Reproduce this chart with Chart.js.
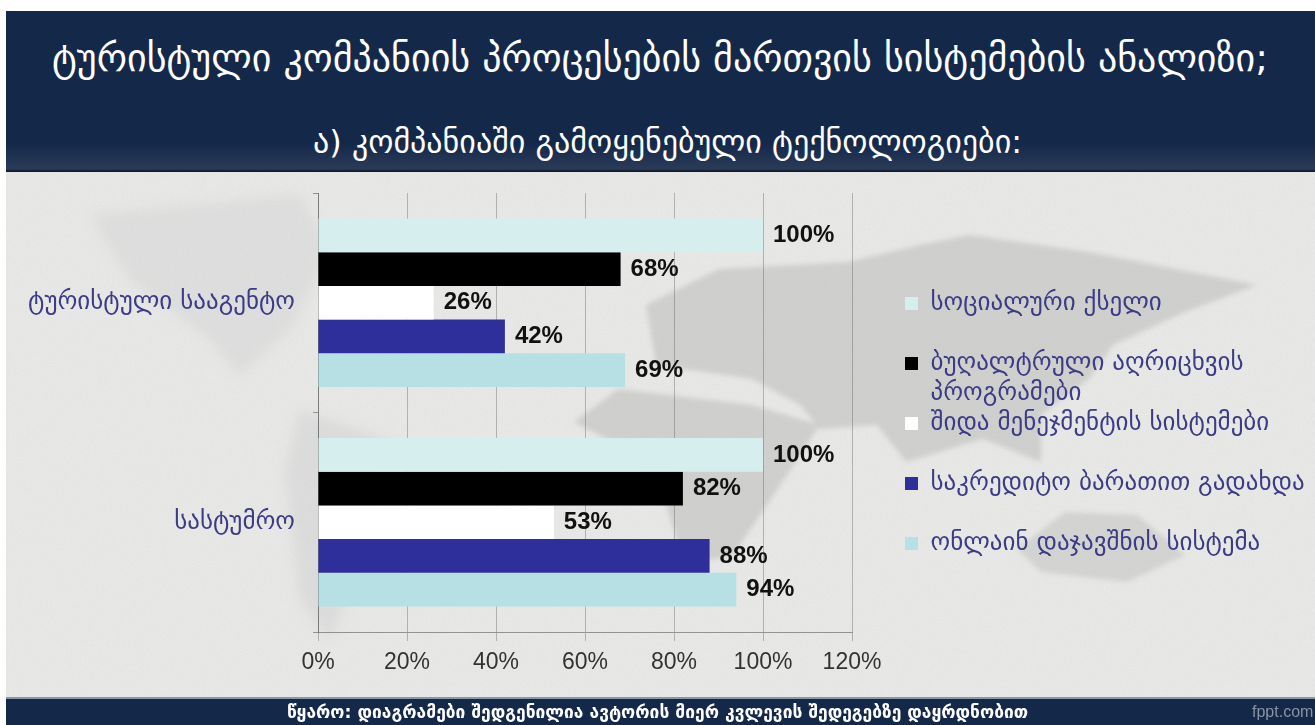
<!DOCTYPE html>
<html lang="ka">
<head>
<meta charset="utf-8">
<title>ტურისტული კომპანიის პროცესების მართვის სისტემების ანალიზი</title>
<script src="https://cdn.jsdelivr.net/npm/chart.js@4"></script>
<style>
  html, body { margin:0; padding:0; background:#fff; overflow:hidden; }
  #slide { position:absolute; left:6px; top:11px; width:1309px; height:714px; background:#e9e9e8; overflow:hidden; font-family:"DejaVu Sans",sans-serif; }
  #map { position:absolute; left:-6px; top:-11px; }
  #head { position:absolute; left:0; top:0; width:100%; height:161px; background:linear-gradient(#14284a 0,#14284a 82%,#2a3b57 98%,#0c1525 100%); color:#fff; white-space:nowrap; }
  #head div { position:absolute; }
  #t1 { top:25px; left:46px; font-size:38px; line-height:44px; }
  #t2 { top:112px; left:307px; font-size:32px; line-height:38px; }
  #foot { position:absolute; left:0; top:686px; width:100%; height:28px; background:#14284a; border-top:2px solid #8b97a8; box-sizing:border-box; color:#fff; white-space:nowrap; }
  #src { position:absolute; left:281px; top:3px; font-size:17.4px; font-weight:bold; }
  #brand { position:absolute; left:1246px; top:4px; font:16px "Liberation Sans",sans-serif; color:#8a93a3; }
  #wrap { position:absolute; left:0; top:161px; width:1309px; height:525px; }
</style>
</head>
<body>
<div id="slide">
  <svg id="map" width="1315" height="725">
    <defs>
      <filter id="blur"><feGaussianBlur stdDeviation="2.5"/></filter>
      <filter id="soft"><feGaussianBlur stdDeviation="6"/></filter>
      <filter id="paper"><feTurbulence type="fractalNoise" baseFrequency="0.7" numOctaves="2" seed="4"/><feColorMatrix values="0 0 0 0 0.5 0 0 0 0 0.5 0 0 0 0 0.5 0.5 0 0 0 -0.12"/></filter>
    </defs>
    <g fill="#d6d6d5" filter="url(#soft)">
      <path d="M90 215 L300 195 L330 250 L290 330 L240 375 L210 340 L130 280Z" opacity=".5"/>
      <path d="M300 410 L390 440 L370 540 L330 640 L300 600 L285 470Z" opacity=".6"/>
    </g>
    <g fill="#d0d0cf" filter="url(#blur)">
      <path d="M646 305 L719 269 L848 262 L920 245 L969 235 L1089 252 L1257 285 L1185 312 L1113 345 L1089 379 L1041 415 L1041 462 L983 439 L906 462 L877 425 L820 429 L800 405 L752 379 L656 365Z"/>
      <path d="M574 422 L618 389 L752 405 L820 425 L767 505 L733 555 L685 565 L666 505 L618 445Z"/>
      <path d="M1017 549 L1065 512 L1137 515 L1185 555 L1127 582 L1041 572Z" opacity=".85"/>
    </g>
    <rect width="1315" height="725" filter="url(#paper)" opacity=".35"/>
  </svg>
  <div id="head">
    <div id="t1">ტურისტული კომპანიის პროცესების მართვის სისტემების ანალიზი;</div>
    <div id="t2">ა) კომპანიაში გამოყენებული ტექნოლოგიები:</div>
  </div>
  <div id="wrap"><canvas id="chart" width="1309" height="525"></canvas></div>
  <div id="foot">
    <span id="src">წყარო: დიაგრამები შედგენილია ავტორის მიერ კვლევის შედეგებზე დაყრდნობით</span>
    <span id="brand">fppt.com</span>
  </div>
</div>
<script>
const categories = ['ტურისტული სააგენტო', 'სასტუმრო'];
const socialNetwork = [100, 100];
const accounting = [68, 82];
const management = [26, 53];
const creditCard = [42, 88];
const booking = [69, 94];
const seriesNames = [
  ['სოციალური ქსელი', ''],
  ['ბუღალტრული აღრიცხვის', 'პროგრამები'],
  ['შიდა მენეჯმენტის სისტემები', ''],
  ['საკრედიტო ბარათით გადახდა', ''],
  ['ონლაინ დაჯავშნის სისტემა', '']
];
const seriesColors = ['#d6eeee', '#000000', '#ffffff', '#2f2f9b', '#b6e0e3'];
const xTicks = [0, 20, 40, 60, 80, 100, 120];

const inkBlue = '#3b3b86';

// value labels at the bar ends
const barLabels = {
  id: 'barLabels',
  afterDatasetsDraw(chart){
    const ctx = chart.ctx;
    ctx.save();
    ctx.font = 'bold 24px "Liberation Sans"';
    ctx.fillStyle = '#111';
    ctx.textBaseline = 'middle';
    chart.data.datasets.forEach((ds, i)=>{
      chart.getDatasetMeta(i).data.forEach((bar, j)=>{
        ctx.fillText(ds.data[j] + '%', bar.x + 10, bar.y);
      });
    });
    ctx.restore();
  }
};

// legend gets a fixed width, the labels are wider than chart.js allows a side box
const legendWidth = {
  id: 'legendWidth',
  beforeLayout(chart){
    const fit = Object.getPrototypeOf(chart.legend).fit;
    chart.legend.fit = function(){ fit.call(this); this.width = 410; };
  }
};

const allSeries = [socialNetwork, accounting, management, creditCard, booking];

new Chart(document.getElementById('chart'), {
  type: 'bar',
  plugins: [barLabels, legendWidth],
  data: {
    labels: categories,
    datasets: allSeries.map((vals, i)=>({
      label: seriesNames[i][0],
      data: vals,
      backgroundColor: seriesColors[i],
      categoryPercentage: 0.767,
      barPercentage: 1
    }))
  },
  options: {
    indexAxis: 'y',
    responsive: false,
    animation: false,
    layout: { autoPadding: false, padding: { top: 21, bottom: 8 } },
    plugins: {
      tooltip: { enabled: false },
      legend: {
        position: 'right',
        labels: {
          boxWidth: 13,
          boxHeight: 13,
          padding: 0,
          color: inkBlue,
          font: { family: '"DejaVu Sans"', size: 25, lineHeight: '30px' },
          generateLabels(){
            return seriesNames.map((name, i)=>({
              text: name,
              fillStyle: seriesColors[i],
              strokeStyle: seriesColors[i],
              lineWidth: 0,
              fontColor: inkBlue,
              datasetIndex: i
            }));
          }
        }
      }
    },
    scales: {
      x: {
        min: 0,
        max: 120,
        afterBuildTicks(s){ s.ticks = xTicks.map(v=>({ value: v })); },
        afterFit(s){ s.height = 57; },
        grid: { color: 'rgba(90,90,90,.38)', tickLength: 9 },
        border: { color: 'rgba(90,90,90,.6)' },
        ticks: { color: '#333', padding: 8, maxRotation: 0, font: { family: '"Liberation Sans"', size: 23 }, callback: v=>v + '%' }
      },
      y: {
        afterFit(s){ s.width = 312; s.paddingTop = 0; s.paddingBottom = 0; },
        grid: { drawOnChartArea: false, color: 'rgba(90,90,90,.6)', tickLength: 5 },
        border: { color: 'rgba(90,90,90,.6)' },
        ticks: { color: inkBlue, padding: 18, font: { family: '"DejaVu Sans"', size: 25 } }
      },
      // empty axis, only keeps the gap between plot and legend
      gap: {
        type: 'linear',
        axis: 'y',
        position: 'right',
        afterFit(s){ s.width = 53; s.paddingTop = 0; s.paddingBottom = 0; },
        grid: { display: false },
        border: { display: false },
        ticks: { display: false }
      }
    }
  }
});
</script>
</body>
</html>
